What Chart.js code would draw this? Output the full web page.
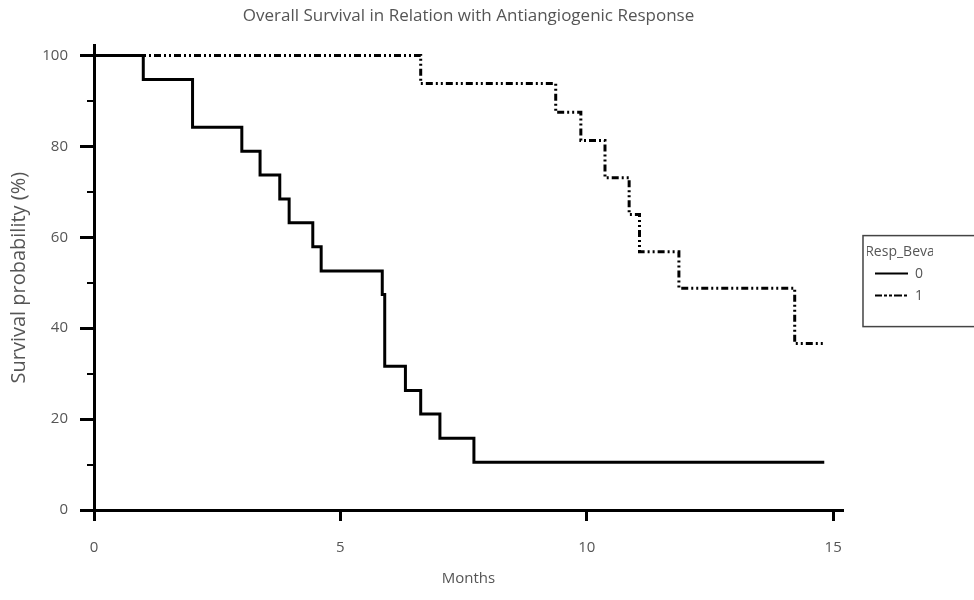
<!DOCTYPE html>
<html lang="en">
  <head>
    <meta charset="UTF-8" />
    <title>Overall Survival</title>
    <script src="https://cdn.jsdelivr.net/npm/chart.js"></script>
    <style>
      body { margin: 0; background: #fff; }
      .wrap { width: 974px; height: 600px; position: relative; }
    </style>
  </head>
  <body>
    <div class="wrap"><canvas id="km"></canvas></div>
    <script>
      "use strict";
      // Kaplan-Meier steps (months, % surviving)
      const months0 = [0, 1, 2, 3, 3.37, 3.77, 3.96, 4.44, 4.61, 5.85, 5.9, 6.32, 6.63, 7.02, 7.71, 14.82];
      const surv0 = [100, 94.7, 84.2, 78.9, 73.7, 68.4, 63.2, 57.9, 52.6, 47.4, 31.6, 26.3, 21.1, 15.8, 10.5, 10.5];
      const months1 = [0, 6.63, 9.37, 9.88, 10.37, 10.86, 11.07, 11.87, 14.22, 14.82];
      const surv1 = [100, 93.8, 87.5, 81.3, 73.1, 65.0, 56.8, 48.8, 36.6, 36.6];
      const groupLabels = ["0", "1"];
      const xTicks = [0, 5, 10, 15];
      const yTicks = [0, 20, 40, 60, 80, 100];
      const yMinorTicks = [10, 30, 50, 70, 90];

      const grey = "#555";
      const font = "'Open Sans', sans-serif";

      const toPoints = (xs, ys) => xs.map((x, i) => ({ x: x, y: ys[i] }));
      const setTicks = (vals) => (scale) => {
        scale.ticks = vals.map((v) => ({ value: v }));
      };

      // frame round the legend, cut by the right edge like the original
      const legendFrame = {
        id: "legendFrame",
        afterDraw(chart) {
          const lg = chart.legend;
          if (!lg || !lg.legendHitBoxes.length) return;
          const hb = lg.legendHitBoxes;
          const c1 = hb[0].top + hb[0].height / 2;
          const c2 = hb[hb.length - 1].top + hb[hb.length - 1].height / 2;
          const ctx = chart.ctx;
          ctx.save();
          ctx.strokeStyle = "#444";
          ctx.lineWidth = 1.5;
          ctx.strokeRect(lg.left - 4, c1 - 38, chart.width, c2 - c1 + 69);
          ctx.restore();
        },
      };

      new Chart(document.getElementById("km"), {
        type: "line",
        data: {
          datasets: [
            {
              label: groupLabels[0],
              data: toPoints(months0, surv0),
              borderColor: "#000",
              borderWidth: 3,
              stepped: "before",
              pointRadius: 0,
              fill: false,
            },
            {
              label: groupLabels[1],
              data: toPoints(months1, surv1),
              borderColor: "#000",
              borderWidth: 3,
              borderDash: [7, 3, 2, 3, 2, 3],
              stepped: "before",
              pointRadius: 0,
              fill: false,
            },
          ],
        },
        options: {
          responsive: true,
          maintainAspectRatio: false,
          animation: false,
          layout: { padding: { left: 0, bottom: 0, right: 41, top: 0 } },
          scales: {
            x: {
              type: "linear",
              position: "bottom",
              min: 0,
              max: 15.2,
              afterBuildTicks: setTicks(xTicks),
              afterFit: (s) => { s.height = 90; },
              ticks: { color: grey, font: { family: font, size: 15 }, padding: 18, maxRotation: 0 },
              grid: { drawOnChartArea: false, color: "#000", lineWidth: 3, tickLength: 11 },
              border: { color: "#000", width: 3 },
              title: { display: true, text: "Months", color: grey, font: { family: font, size: 15 }, padding: { bottom: 12 } },
            },
            y: {
              type: "linear",
              position: "left",
              min: 0,
              max: 102.2,
              afterBuildTicks: setTicks(yTicks),
              afterFit: (s) => { s.width = 94; },
              ticks: { color: grey, font: { family: font, size: 15 }, padding: 12 },
              grid: { drawOnChartArea: false, color: "#000", lineWidth: 3, tickLength: 14 },
              border: { color: "#000", width: 3 },
              title: { display: true, text: "Survival probability (%)", color: grey, font: { family: font, size: 20 }, padding: { top: 7 } },
            },
            yMinor: {
              type: "linear",
              axis: "y",
              position: { x: 0 },
              min: 0,
              max: 102.2,
              afterBuildTicks: setTicks(yMinorTicks),
              ticks: { display: false },
              grid: { drawOnChartArea: false, color: "#000", lineWidth: 2, tickLength: 7 },
              border: { display: false },
            },
            spacer: {
              type: "linear",
              axis: "y",
              position: "right",
              ticks: { display: false },
              grid: { display: false },
              border: { display: false },
              afterFit: (s) => { s.width = 24; },
            },
          },
          plugins: {
            title: {
              display: true,
              text: "Overall Survival in Relation with Antiangiogenic Response",
              color: grey,
              fullSize: false,
              font: { family: font, size: 17, weight: "normal" },
              padding: { top: 6, bottom: 19 },
            },
            legend: {
              position: "right",
              fullSize: false,
              title: { display: true, text: "Resp_Beva", color: grey, font: { family: font, size: 14 }, padding: { top: 0, bottom: -3 } },
              labels: {
                boxWidth: 33,
                boxHeight: 0,
                color: grey,
                font: { family: font, size: 14 },
                padding: 8,
                generateLabels: (chart) =>
                  Chart.defaults.plugins.legend.labels.generateLabels(chart).map((l) => ({ ...l, lineWidth: 2 })),
              },
            },
            tooltip: { enabled: false },
          },
        },
        plugins: [legendFrame],
      });
    </script>
  </body>
</html>
